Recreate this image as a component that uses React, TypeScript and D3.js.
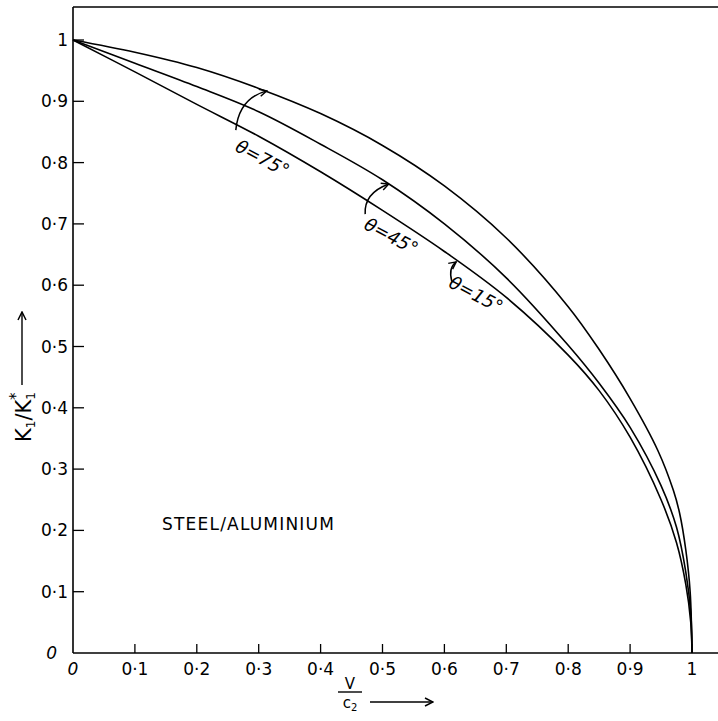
import React from "react";
import * as d3 from "d3";

const W = 718;
const H = 721;

// velocity ratio V/c2 and normalised stress intensity K1/K1*
const vTheta75 = [0, 0.1, 0.2, 0.3, 0.4, 0.5, 0.6, 0.7, 0.8, 0.85, 0.9, 0.945, 0.97, 0.98, 0.99, 0.997, 1];
const kTheta75 = [1, 0.98, 0.955, 0.921, 0.88, 0.828, 0.762, 0.677, 0.565, 0.495, 0.415, 0.33, 0.265, 0.228, 0.168, 0.1, 0];

const vTheta45 = [0, 0.1, 0.2, 0.3, 0.4, 0.5, 0.6, 0.7, 0.8, 0.85, 0.9, 0.95, 0.975, 0.99, 0.998, 1];
const kTheta45 = [1, 0.962, 0.924, 0.883, 0.83, 0.772, 0.7, 0.612, 0.502, 0.44, 0.368, 0.273, 0.205, 0.132, 0.065, 0];

const vTheta15 = [0, 0.1, 0.2, 0.3, 0.4, 0.5, 0.6, 0.7, 0.8, 0.85, 0.9, 0.95, 0.975, 0.99, 0.998, 1];
const kTheta15 = [1, 0.948, 0.895, 0.843, 0.785, 0.722, 0.655, 0.58, 0.486, 0.428, 0.352, 0.25, 0.18, 0.112, 0.05, 0];

const xTicks = [0, 0.1, 0.2, 0.3, 0.4, 0.5, 0.6, 0.7, 0.8, 0.9, 1];
const xTickLabels = ["0", "0·1", "0·2", "0·3", "0·4", "0·5", "0·6", "0·7", "0·8", "0·9", "1"];
const yTicks = [0, 0.1, 0.2, 0.3, 0.4, 0.5, 0.6, 0.7, 0.8, 0.9, 1];
const yTickLabels = ["0", "0·1", "0·2", "0·3", "0·4", "0·5", "0·6", "0·7", "0·8", "0·9", "1"];

// annotation arrows in data units: [start, control, end]
const annotations = [
  { label: "θ=75°", arrow: [[0.263, 0.853], [0.268, 0.905], [0.313, 0.917]], text: [0.26, 0.82], angle: 28 },
  { label: "θ=45°", arrow: [[0.472, 0.716], [0.47, 0.75], [0.51, 0.765]], text: [0.468, 0.693], angle: 28 },
  { label: "θ=15°", arrow: [[0.612, 0.606], [0.606, 0.628], [0.619, 0.638]], text: [0.605, 0.598], angle: 28 },
];

const FONT = "'DejaVu Sans', sans-serif";

export default function App() {
  const x = d3.scaleLinear().domain([0, 1]).range([73, 692]);
  const y = d3.scaleLinear().domain([0, 1]).range([653, 40]);
  const line = d3
    .line<[number, number]>()
    .x((d) => x(d[0]))
    .y((d) => y(d[1]))
    .curve(d3.curveCatmullRom.alpha(0.5));

  const series = [
    { v: vTheta75, k: kTheta75 },
    { v: vTheta45, k: kTheta45 },
    { v: vTheta15, k: kTheta15 },
  ];

  const axisLeft = x(0);
  const axisBottom = y(0);
  const topY = 7;

  return (
    <svg
      width={W}
      height={H}
      style={{ position: "absolute", left: 0, top: 0, background: "#fff" }}
      fontFamily={FONT}
    >
      <defs>
        <marker id="ah" viewBox="0 0 10 10" refX="9" refY="5" markerWidth="9" markerHeight="9" orient="auto" markerUnits="userSpaceOnUse">
          <path d="M1,1 L9,5 L1,9" fill="none" stroke="#000" strokeWidth="1.6" />
        </marker>
        <marker id="ah2" viewBox="0 0 10 10" refX="9" refY="5" markerWidth="10" markerHeight="10" orient="auto" markerUnits="userSpaceOnUse">
          <path d="M1,1 L9,5 L1,9" fill="none" stroke="#000" strokeWidth="1.5" />
        </marker>
      </defs>
      <rect width={W} height={H} fill="#fff" />

      {/* frame */}
      <line x1={axisLeft} y1={topY} x2={W} y2={topY} stroke="#000" strokeWidth={1.3} />
      <line x1={axisLeft} y1={topY} x2={axisLeft} y2={axisBottom} stroke="#000" strokeWidth={1.6} />
      <line x1={axisLeft} y1={axisBottom} x2={W} y2={axisBottom} stroke="#000" strokeWidth={1.6} />

      {/* y ticks */}
      {yTicks.map((t, i) => (
        <g key={"yt" + i}>
          {t > 0 && <line x1={axisLeft} x2={axisLeft + 11} y1={y(t)} y2={y(t)} stroke="#000" strokeWidth={1.3} />}
          <text
            x={t === 0 ? 57 : axisLeft - 5}
            y={y(t) + 6}
            textAnchor="end"
            fontSize={17}
            fontStyle={t === 0 ? "italic" : "normal"}
            fill="#000"
          >
            {yTickLabels[i]}
          </text>
        </g>
      ))}

      {/* x ticks */}
      {xTicks.map((t, i) => (
        <g key={"xt" + i}>
          {t > 0 && <line x1={x(t)} x2={x(t)} y1={axisBottom} y2={axisBottom - 9} stroke="#000" strokeWidth={1.3} />}
          <text
            x={x(t)}
            y={axisBottom + 22}
            textAnchor="middle"
            fontSize={17}
            fontStyle={t === 0 ? "italic" : "normal"}
            fill="#000"
          >
            {xTickLabels[i]}
          </text>
        </g>
      ))}

      {/* curves */}
      {series.map((s, i) => (
        <path
          key={"c" + i}
          d={line(s.v.map((v, j) => [v, s.k[j]] as [number, number])) || ""}
          fill="none"
          stroke="#000"
          strokeWidth={1.6}
        />
      ))}

      {/* annotations */}
      {annotations.map((a, i) => {
        const [p0, p1, p2] = a.arrow;
        const d = `M${x(p0[0])},${y(p0[1])} Q${x(p1[0])},${y(p1[1])} ${x(p2[0])},${y(p2[1])}`;
        const tx = x(a.text[0]);
        const ty = y(a.text[1]);
        return (
          <g key={"a" + i}>
            <path d={d} fill="none" stroke="#000" strokeWidth={1.5} markerEnd="url(#ah)" />
            <text
              x={tx}
              y={ty}
              fontSize={18}
              fontStyle="italic"
              transform={`rotate(${a.angle},${tx},${ty})`}
              fill="#000"
            >
              {a.label}
            </text>
          </g>
        );
      })}

      {/* material label */}
      <text x={162} y={530} fontSize={17} letterSpacing={1.2} fill="#000">
        STEEL/ALUMINIUM
      </text>

      {/* x axis label */}
      <g>
        <text x={350} y={689} textAnchor="middle" fontSize={15} fill="#000">V</text>
        <line x1={338} x2={362} y1={692} y2={692} stroke="#000" strokeWidth={1.4} />
        <text x={350} y={708} textAnchor="middle" fontSize={15} fill="#000">
          c<tspan fontSize={10} dy={3}>2</tspan>
        </text>
        <line x1={370} x2={433} y1={702} y2={702} stroke="#000" strokeWidth={1.4} markerEnd="url(#ah2)" />
      </g>

      {/* y axis label */}
      <g transform="translate(31,417) rotate(-90)">
        <text x={0} y={0} textAnchor="middle" fontSize={21} fill="#000">
          K<tspan fontSize={12} dy={4}>1</tspan>
          <tspan dy={-4}>/K</tspan>
          <tspan fontSize={12} dy={4}>1</tspan>
          <tspan fontSize={15} dx={-8} dy={-14}>*</tspan>
        </text>
      </g>
      <line x1={22} x2={22} y1={385} y2={312} stroke="#000" strokeWidth={1.4} markerEnd="url(#ah2)" />
    </svg>
  );
}
